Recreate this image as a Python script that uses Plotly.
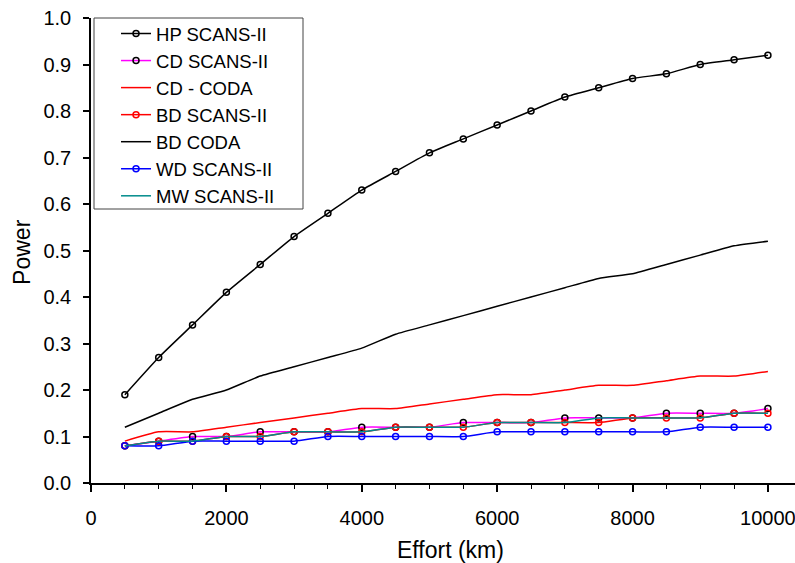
import plotly.graph_objects as go

effort = [500, 1000, 1500, 2000, 2500, 3000, 3500, 4000, 4500, 5000,
          5500, 6000, 6500, 7000, 7500, 8000, 8500, 9000, 9500, 10000]
hp_scans = [0.19, 0.27, 0.34, 0.41, 0.47, 0.53, 0.58, 0.63, 0.67, 0.71,
            0.74, 0.77, 0.80, 0.83, 0.85, 0.87, 0.88, 0.90, 0.91, 0.92]
cd_scans = [0.08, 0.09, 0.10, 0.10, 0.11, 0.11, 0.11, 0.12, 0.12, 0.12,
            0.13, 0.13, 0.13, 0.14, 0.14, 0.14, 0.15, 0.15, 0.15, 0.16]
cd_coda = [0.09, 0.11, 0.11, 0.12, 0.13, 0.14, 0.15, 0.16, 0.16, 0.17,
           0.18, 0.19, 0.19, 0.20, 0.21, 0.21, 0.22, 0.23, 0.23, 0.24]
bd_scans = [0.08, 0.09, 0.09, 0.10, 0.10, 0.11, 0.11, 0.11, 0.12, 0.12,
            0.12, 0.13, 0.13, 0.13, 0.13, 0.14, 0.14, 0.14, 0.15, 0.15]
bd_coda = [0.12, 0.15, 0.18, 0.20, 0.23, 0.25, 0.27, 0.29, 0.32, 0.34,
           0.36, 0.38, 0.40, 0.42, 0.44, 0.45, 0.47, 0.49, 0.51, 0.52]
wd_scans = [0.08, 0.08, 0.09, 0.09, 0.09, 0.09, 0.10, 0.10, 0.10, 0.10,
            0.10, 0.11, 0.11, 0.11, 0.11, 0.11, 0.11, 0.12, 0.12, 0.12]
mw_scans = [0.08, 0.09, 0.09, 0.10, 0.10, 0.11, 0.11, 0.11, 0.12, 0.12,
            0.12, 0.13, 0.13, 0.13, 0.14, 0.14, 0.14, 0.14, 0.15, 0.15]

x_ticks = [0, 2000, 4000, 6000, 8000, 10000]
y_ticks = [0.0, 0.1, 0.2, 0.3, 0.4, 0.5, 0.6, 0.7, 0.8, 0.9, 1.0]

FONT = "Liberation Sans, Arial, sans-serif"

series = [
    ("HP SCANS-II", hp_scans, "#000000", "#000000", True),
    ("CD SCANS-II", cd_scans, "#FF00FF", "#000000", True),
    ("CD - CODA", cd_coda, "#FF0000", None, False),
    ("BD SCANS-II", bd_scans, "#FF0000", "#FF0000", True),
    ("BD CODA", bd_coda, "#000000", None, False),
    ("WD SCANS-II", wd_scans, "#0000FF", "#0000FF", True),
    ("MW SCANS-II", mw_scans, "#008B8B", None, False),
]

fig = go.Figure()
for i, (name, vals, lc, mc, has_m) in enumerate(series):
    kw = dict(x=effort, y=vals, name=name,
              line=dict(color=lc, width=1.5, shape="spline", smoothing=0.5))
    if has_m:
        kw["mode"] = "lines+markers"
        kw["marker"] = dict(symbol="circle-open", size=6,
                            color=mc, line=dict(color=mc, width=1.5))
    else:
        kw["mode"] = "lines"
    fig.add_trace(go.Scatter(**kw))

# legend frame (pixel box 94..303 x 18..209 in a 704x465 plot area at 91,18)
fig.add_shape(type="rect", xref="paper", yref="paper",
              x0=3 / 704, x1=212 / 704, y0=(483 - 209) / 465, y1=1.0,
              line=dict(color="#444444", width=1), fillcolor="white",
              layer="above")

fig.update_layout(
    width=795, height=563,
    margin=dict(l=91, r=0, t=18, b=80, autoexpand=False),
    paper_bgcolor="white", plot_bgcolor="white",
    font=dict(family=FONT, color="black", size=20),
    showlegend=True,
    legend=dict(x=0.0043, y=1.0065, xanchor="left", yanchor="top",
                borderwidth=0, bgcolor="rgba(0,0,0,0)",
                font=dict(family=FONT, size=18.5, color="black"),
                indentation=22),
    annotations=[
        dict(text="Effort (km)", xref="paper", yref="paper",
             x=0.51, y=-0.144, showarrow=False,
             font=dict(family=FONT, size=23), xanchor="center", yanchor="middle"),
        dict(text="Power", xref="paper", yref="paper",
             x=-0.098, y=0.497, showarrow=False, textangle=-90,
             font=dict(family=FONT, size=23), xanchor="center", yanchor="middle"),
    ],
)

fig.update_xaxes(range=[0, 10400], showgrid=False, zeroline=False,
                 automargin=False, ticklabeloverflow="allow",
                 showline=True, linecolor="black", linewidth=1.5,
                 tickmode="array", tickvals=x_ticks,
                 ticktext=[str(v) for v in x_ticks],
                 ticks="outside", ticklen=7, tickwidth=1.5, tickcolor="black",
                 ticklabelstandoff=9,
                 minor=dict(dtick=500, ticks="outside", ticklen=4,
                            tickwidth=1, tickcolor="black", showgrid=False),
                 tickfont=dict(family=FONT, size=20))
fig.update_yaxes(range=[0, 1.0], showgrid=False, zeroline=False,
                 automargin=False, ticklabeloverflow="allow",
                 showline=True, linecolor="black", linewidth=1.5,
                 tickmode="array", tickvals=y_ticks,
                 ticktext=[f"{v:.1f}" for v in y_ticks],
                 ticks="outside", ticklen=6, tickwidth=1.5, tickcolor="black",
                 ticklabelstandoff=8,
                 tickfont=dict(family=FONT, size=20))

fig.write_html("out.html", config={"displayModeBar": False},
               post_script="document.body.style.margin='0';document.body.style.overflow='hidden';")
